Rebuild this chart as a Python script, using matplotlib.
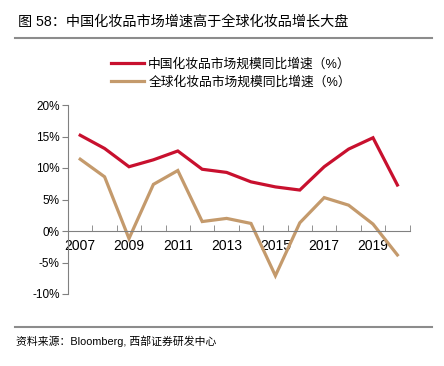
import matplotlib
matplotlib.use('Agg')
from matplotlib import pyplot as plt
from matplotlib.lines import Line2D

plt.rcParams['font.family'] = ['Liberation Sans', 'Noto Sans CJK SC']

years = list(range(2007, 2021))
china_growth = [15.2, 13.1, 10.2, 11.3, 12.7, 9.8, 9.3, 7.8, 7.0, 6.5, 10.2, 13.0, 14.8, 7.3]
global_growth = [11.4, 8.6, -1.2, 7.4, 9.6, 1.5, 2.0, 1.2, -7.1, 1.3, 5.3, 4.1, 1.1, -3.8]
y_ticks = [-10, -5, 0, 5, 10, 15, 20]
labels = ['中国化妆品市场规模同比增速（%）', '全球化妆品市场规模同比增速（%）']

RED = '#C8102E'
TAN = '#C49A6C'
GRAY = '#808080'

fig = plt.figure(figsize=(4.44, 3.66), dpi=100)
W, H = 444, 366
ax = fig.add_axes([68 / W, 1 - 294 / H, (409.6 - 68) / W, (294 - 105) / H])

x = list(range(len(years)))
ax.plot(x, china_growth, color=RED, lw=2.3, solid_joinstyle='miter')
ax.plot(x, global_growth, color=TAN, lw=2.3, solid_joinstyle='miter')

ax.set_xlim(-0.5, len(years) - 0.5)
ax.set_ylim(-10, 20)
ax.set_yticks(y_ticks)
ax.set_yticklabels([f'{v}%' for v in y_ticks], fontsize=8.5)

ax.set_xticks(x[::2])
ax.set_xticklabels([str(y) for y in years[::2]], fontsize=8.5)
ax.set_xticks([i - 0.5 for i in range(len(years) + 1)], minor=True)
ax.tick_params(axis='x', which='major', length=0, pad=6)
ax.tick_params(axis='x', which='minor', length=4, direction='in', color=GRAY)
ax.tick_params(axis='y', length=4, direction='out', color=GRAY, pad=2)

for s in ['top', 'right']:
    ax.spines[s].set_visible(False)
ax.spines['bottom'].set_position(('data', 0))
ax.spines['left'].set_color(GRAY)
ax.spines['bottom'].set_color(GRAY)

# legend
handles = [Line2D([], [], color=RED, lw=2.3), Line2D([], [], color=TAN, lw=2.3)]
fig.legend(handles, labels, loc='upper left', bbox_to_anchor=(106 / W, 1 - 53 / H),
           frameon=False, fontsize=9.2, handlelength=2.6, handletextpad=0.3,
           labelspacing=0.45, borderaxespad=0)

# header / footer
fig.text(18 / W, 1 - 22 / H, '图 58：中国化妆品市场增速高于全球化妆品增长大盘',
         fontsize=10.2, va='center', ha='left')
fig.add_artist(Line2D([15 / W, 432 / W], [1 - 38 / H, 1 - 38 / H], color='#8c8c8c', lw=1.5))
fig.add_artist(Line2D([15 / W, 432 / W], [1 - 327 / H, 1 - 327 / H], color='#8c8c8c', lw=1.5))
fig.text(16 / W, 1 - 341 / H, '资料来源：Bloomberg, 西部证券研发中心',
         fontsize=7.8, va='center', ha='left')

fig.savefig('out.png', dpi=100)
